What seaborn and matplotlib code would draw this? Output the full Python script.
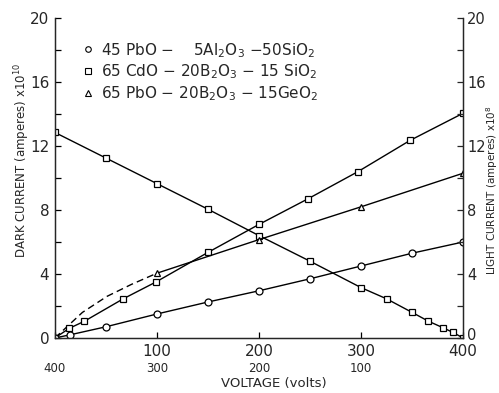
#!/usr/bin/env python3
#===============================================================================
# plot.py
#===============================================================================

# Imports ======================================================================

import matplotlib
matplotlib.use('Agg')
import matplotlib.pyplot as plt
from matplotlib.lines import Line2D
from matplotlib.transforms import ScaledTranslation
import pandas as pd
import seaborn as sns


# Data =========================================================================

# 45 PbO - 5 Al2O3 - 50 SiO2 (light current, circles)
pbo_al_volts = [0, 15, 50, 100, 150, 200, 250, 300, 350, 400]
pbo_al_current = [0, 0.2, 0.7, 1.5, 2.25, 2.95, 3.7, 4.5, 5.3, 6.0]

# 65 CdO - 20 B2O3 - 15 SiO2 (light current, squares)
cdo_light_volts = [0, 14, 29, 67, 99, 150, 200, 248, 297, 348, 400]
cdo_light_current = [0, 0.6, 1.05, 2.45, 3.5, 5.35, 7.1, 8.7, 10.4, 12.35, 14.05]

# 65 CdO - 20 B2O3 - 15 SiO2 (dark current, squares)
cdo_dark_volts = [0, 50, 100, 150, 200, 250, 300, 325, 350, 366, 380, 390, 400]
cdo_dark_current = [12.85, 11.25, 9.65, 8.05, 6.4, 4.8, 3.15, 2.45, 1.6, 1.05,
                    0.65, 0.35, 0]

# 65 PbO - 20 B2O3 - 15 GeO2 (light current, triangles)
pbo_ge_volts = [100, 200, 300, 400]
pbo_ge_current = [4.05, 6.15, 8.2, 10.3]
# dashed extrapolation towards the origin
pbo_ge_dash_volts = [0, 27, 51, 75, 100]
pbo_ge_dash_current = [0, 1.6, 2.6, 3.35, 4.05]

legend_labels = [
    r'45 PbO $-$    5Al$_2$O$_3$ $-$50SiO$_2$',
    r'65 CdO $-$ 20B$_2$O$_3$ $-$ 15 SiO$_2$',
    r'65 PbO $-$ 20B$_2$O$_3$ $-$ 15GeO$_2$',
]
legend_markers = ['o', 's', '^']

top_ticks = [0, 100, 200, 300, 400]
top_labels = ['', '100', '200', '300', '400']
bottom_ticks = [400, 300, 200, 100]
y_ticks = [0, 4, 8, 12, 16, 20]


# Functions ====================================================================

def draw(ax, x, y, marker, dashes=False):
    df = pd.DataFrame({'x': x, 'y': y})
    sns.lineplot(
        data=df, x='x', y='y', ax=ax, color='black', linewidth=1.0,
        marker=marker if marker else None, markersize=5,
        markerfacecolor='white', markeredgecolor='black',
        markeredgewidth=0.9, linestyle='--' if dashes else '-',
        sort=False, errorbar=None
    )


def main():
    sns.set_style('ticks')
    plt.rcParams['font.family'] = ['DejaVu Sans']
    plt.rcParams['mathtext.fontset'] = 'dejavusans'

    fig = plt.figure(figsize=(4.99, 3.93), dpi=100)
    ax = fig.add_axes([0.110, 0.140, 0.818, 0.814])

    draw(ax, pbo_ge_dash_volts, pbo_ge_dash_current, None, dashes=True)
    ax.lines[-1].set_dashes((5, 3))
    draw(ax, cdo_dark_volts, cdo_dark_current, 's')
    draw(ax, cdo_light_volts, cdo_light_current, 's')
    draw(ax, pbo_ge_volts, pbo_ge_current, '^')
    draw(ax, pbo_al_volts, pbo_al_current, 'o')

    ax.set_xlim(0, 400)
    ax.set_ylim(0, 20)
    ax.set_xlabel('')
    ax.set_ylabel('')
    for s in ('left', 'bottom', 'right'):
        ax.spines[s].set_linewidth(1.0)
    ax.spines['top'].set_visible(False)

    ax.set_xticks(top_ticks)
    ax.set_xticklabels(top_labels, fontsize=11)
    ax.set_yticks(y_ticks)
    ax.set_yticks([2, 6, 10, 14, 18], minor=True)
    ax.set_yticklabels([str(t) for t in y_ticks], fontsize=11)
    ax.tick_params(axis='both', which='both', direction='in', length=4,
                   width=0.9, color='black')
    ax.tick_params(axis='x', pad=4)
    ax.tick_params(axis='y', pad=4)

    # second row of voltage labels (reversed scale)
    sec = ax.secondary_xaxis('bottom', functions=(lambda v: 400 - v,
                                                  lambda v: 400 - v))
    sec.set_xticks(bottom_ticks)
    sec.set_xticklabels([str(t) for t in bottom_ticks], fontsize=8.5)
    sec.spines['bottom'].set_visible(False)
    sec.tick_params(length=0, pad=17.5)

    # right axis (light current)
    ax2 = ax.twinx()
    ax2.set_ylim(0, 20)
    ax2.set_yticks(y_ticks)
    ax2.set_yticks([2, 6, 10, 14, 18], minor=True)
    ax2.set_yticklabels([str(t) for t in y_ticks], fontsize=10.5)
    ax2.tick_params(axis='y', which='both', direction='in', length=4,
                    width=0.9, pad=3)
    ax2.spines['top'].set_visible(False)
    zero = ax2.get_yticklabels()[0]
    zero.set_transform(zero.get_transform() +
                       ScaledTranslation(0, 3 / 72, fig.dpi_scale_trans))

    ax.text(-0.081, 0.556, r'DARK CURRENT (amperes) x10$^{10}$',
            transform=ax.transAxes, rotation=90, fontsize=8.5,
            ha='center', va='center')
    ax.text(1.071, 0.4625, r'LIGHT CURRENT (amperes) x10$^{8}$',
            transform=ax.transAxes, rotation=90, fontsize=7.5,
            ha='center', va='center')
    fig.text(274 / 499, 1 - 383 / 393, 'VOLTAGE (volts)', fontsize=9.5,
             ha='center', va='center')

    handles = [
        Line2D([], [], linestyle='none', marker=m, markersize=4,
               markerfacecolor='white', markeredgecolor='black',
               markeredgewidth=0.8)
        for m in legend_markers
    ]
    ax.legend(handles, legend_labels, loc='upper left',
              bbox_to_anchor=(0.05, 0.948), frameon=False, fontsize=11,
              handlelength=0.8, handletextpad=0.5, labelspacing=0.2,
              borderaxespad=0)

    fig.savefig('out.png', dpi=100)


# Execute ======================================================================

if __name__ == '__main__':
    main()
